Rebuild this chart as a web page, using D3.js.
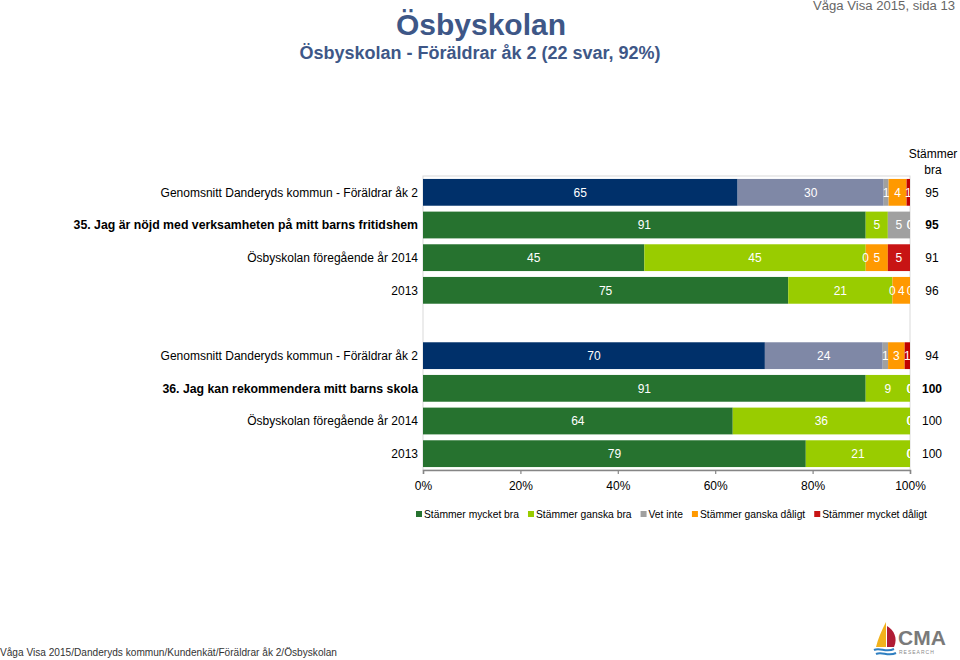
<!DOCTYPE html>
<html><head><meta charset="utf-8">
<script src="https://cdn.jsdelivr.net/npm/d3@7"></script>
<style>
body{margin:0;background:#fff;}
svg{display:block;font-family:"Liberation Sans",Arial,sans-serif;}
</style></head>
<body>
<svg id="chart" width="960" height="660"></svg>
<script>
// ---- data ----
const rowLabels = [
  "Genomsnitt Danderyds kommun - Föräldrar åk 2",
  "35. Jag är nöjd med verksamheten på mitt barns fritidshem",
  "Ösbyskolan föregående år 2014",
  "2013",
  "",
  "Genomsnitt Danderyds kommun - Föräldrar åk 2",
  "36. Jag kan rekommendera mitt barns skola",
  "Ösbyskolan föregående år 2014",
  "2013"
];
const rowType = ["avg","q","prev","prev","gap","avg","q","prev","prev"];
const seriesNames = ["Stämmer mycket bra","Stämmer ganska bra","Vet inte","Stämmer ganska dåligt","Stämmer mycket dåligt"];
const mycketBra    = [64.6, 90.9, 45.45, 75,   null, 70.2, 90.9, 63.6, 78.6];
const ganskaBra    = [30.0, 4.55, 45.45, 21.4, null, 24.2, 9.1,  36.4, 21.4];
const vetInte      = [1.0,  4.55, 0,     0,    null, 1.1,  0,    0,    0];
const ganskaDaligt = [3.7,  0,    4.55,  3.6,  null, 3.4,  0,    0,    0];
const mycketDaligt = [0.7,  0,    4.55,  0,    null, 1.1,  0,    0,    0];
const stammerBra   = [95, 95, 91, 96, null, 94, 100, 100, 100];
const xTicks = [0, 20, 40, 60, 80, 100];

const colorsMain = ["#26722f", "#99cc00", "#a0a0a0", "#ff9900", "#c81414"];
const colorsAvg  = ["#00306a", "#7f88a6", "#a0a0a0", "#ff9900", "#c00000"];

const series = [mycketBra, ganskaBra, vetInte, ganskaDaligt, mycketDaligt];

// ---- layout ----
const svg = d3.select("#chart");
const plot = {left: 423, right: 910, top: 176, bottom: 470};

const x = d3.scaleLinear().domain([0, 100]).range([plot.left, plot.right]);
const y = d3.scaleBand().domain(d3.range(rowLabels.length))
  .range([plot.top, plot.bottom]).paddingInner(0.18).paddingOuter(0.09);

// titles
svg.append("text").attr("x", 481).attr("y", 35).attr("text-anchor","middle")
  .attr("font-size", 30).attr("font-weight","bold").attr("fill","#3e5787").text("Ösbyskolan");
svg.append("text").attr("x", 480).attr("y", 59).attr("text-anchor","middle")
  .attr("font-size", 18).attr("font-weight","bold").attr("fill","#3e5787")
  .text("Ösbyskolan - Föräldrar åk 2 (22 svar, 92%)");
svg.append("text").attr("x", 813).attr("y", 10)
  .attr("font-size", 12).attr("textLength", 142).attr("lengthAdjust","spacingAndGlyphs")
  .attr("fill","#666").text("Våga Visa 2015, sida 13");

// plot frame
svg.append("rect").attr("x", plot.left).attr("y", plot.top)
  .attr("width", plot.right - plot.left).attr("height", plot.bottom - plot.top)
  .attr("fill","none").attr("stroke","#d9d9d9").attr("stroke-width",1);

// clip
svg.append("defs").append("clipPath").attr("id","pc").append("rect")
  .attr("x", plot.left).attr("y", plot.top - 2)
  .attr("width", plot.right - plot.left).attr("height", plot.bottom - plot.top + 4);

const gBars = svg.append("g").attr("clip-path","url(#pc)");

rowLabels.forEach((lab, i) => {
  if (rowType[i] === "gap") return;
  let acc = 0;
  const cols = rowType[i] === "avg" ? colorsAvg : colorsMain;
  series.forEach((s, k) => {
    const v = s[i];
    const x0 = acc, x1 = acc + v;
    gBars.append("rect").attr("x", x(x0)).attr("y", y(i))
      .attr("width", Math.max(0, x(x1) - x(x0))).attr("height", y.bandwidth())
      .attr("fill", cols[k]);
    acc = x1;
  });
  acc = 0;
  series.forEach((s, k) => {
    const v = s[i];
    const xc = x(acc + v / 2);
    gBars.append("text").attr("x", xc).attr("y", y(i) + y.bandwidth() / 2)
      .attr("dy", "0.36em").attr("text-anchor","middle")
      .attr("font-size", 12).attr("fill","#fff").text(Math.round(v));
    acc += v;
  });
  // left label
  svg.append("text").attr("x", 418).attr("y", y(i) + y.bandwidth() / 2).attr("dy","0.36em")
    .attr("text-anchor","end").attr("font-size", rowType[i] === "q" ? 12.3 : 12)
    .attr("font-weight", rowType[i] === "q" ? "bold" : "normal")
    .attr("fill","#000").text(lab);
  // right value
  svg.append("text").attr("x", 932).attr("y", y(i) + y.bandwidth() / 2).attr("dy","0.36em")
    .attr("text-anchor","middle").attr("font-size", 12)
    .attr("font-weight", rowType[i] === "q" ? "bold" : "normal")
    .attr("fill","#000").text(stammerBra[i]);
});

// right header
svg.append("text").attr("x", 933).attr("y", 158).attr("text-anchor","middle")
  .attr("font-size", 12).text("Stämmer");
svg.append("text").attr("x", 933).attr("y", 174).attr("text-anchor","middle")
  .attr("font-size", 12).text("bra");

// axis
const axis = d3.axisBottom(x).tickValues(xTicks).tickFormat(d => d + "%")
  .tickSize(4).tickPadding(7);
const gAxis = svg.append("g").attr("transform", `translate(0,${plot.bottom})`).call(axis);
gAxis.select(".domain").attr("stroke","#868686").attr("stroke-width",1.5);
gAxis.selectAll(".tick line").attr("stroke","#868686").attr("stroke-width",1.2);
gAxis.selectAll(".tick text").attr("font-size",12).attr("fill","#000")
  .attr("font-family","Liberation Sans, Arial, sans-serif");

// legend
const legend = svg.append("g");
let lx = 416;
seriesNames.forEach((n, k) => {
  legend.append("rect").attr("x", lx).attr("y", 511).attr("width", 6).attr("height", 6)
    .attr("fill", colorsMain[k]);
  const t = legend.append("text").attr("x", lx + 8).attr("y", 514).attr("dy","0.35em")
    .attr("font-size", 10.3).attr("fill","#000").text(n);
  lx += 8 + t.node().getComputedTextLength() + 9;
});

// footer
svg.append("text").attr("x", 0).attr("y", 656).attr("font-size", 11.5)
  .attr("textLength", 337).attr("lengthAdjust","spacingAndGlyphs")
  .attr("fill","#333").text("Våga Visa 2015/Danderyds kommun/Kundenkät/Föräldrar åk 2/Ösbyskolan");

// CMA logo
const logo = svg.append("g").attr("transform","translate(872,620)");
logo.append("path").attr("d","M14,2 C10,10 6,18 4,27 L14,27 Z").attr("fill","#f2b21c");
logo.append("path").attr("d","M15,6 C22,10 26,18 22,27 L15,27 Z").attr("fill","#b01c34");
logo.append("path").attr("d","M2,30 C8,27 14,33 22,29").attr("fill","none").attr("stroke","#2f7fc1").attr("stroke-width",2);
logo.append("path").attr("d","M4,34 C10,31 16,37 24,33").attr("fill","none").attr("stroke","#2f7fc1").attr("stroke-width",2);
logo.append("text").attr("x", 26).attr("y", 25).attr("font-size", 21).attr("font-weight","bold")
  .attr("fill","#7a7a7a").text("CMA");
logo.append("text").attr("x", 27).attr("y", 34).attr("font-size", 5).attr("letter-spacing",1)
  .attr("fill","#8a8a8a").text("RESEARCH");
</script>
</body></html>
